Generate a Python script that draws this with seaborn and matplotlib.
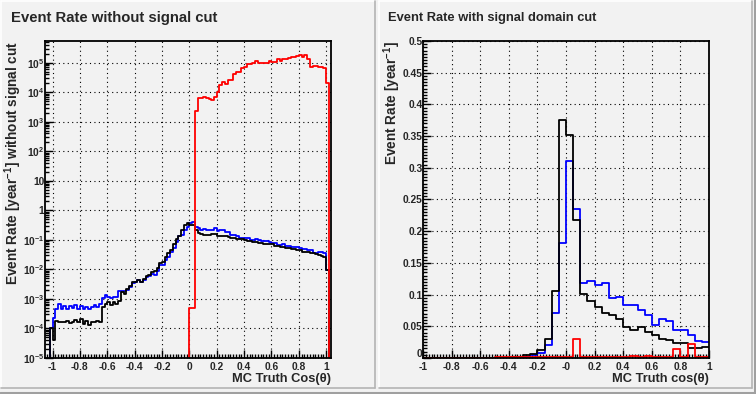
import numpy as np
import pandas as pd
import matplotlib
matplotlib.use("Agg")
import matplotlib.pyplot as plt
import seaborn as sns
from matplotlib.lines import Line2D
from matplotlib.transforms import ScaledTranslation
from matplotlib.ticker import FixedLocator, MultipleLocator, LogLocator, NullFormatter

# ---------- left pad: bins of 0.02 from -1.04 to 1.04 ----------
# bins -1.04 ... -0.02 (52 bins)
blue_neg = [0, 1e-4, 2.3e-4, 4.4e-4, 6.5e-4, 4.4e-4, 5.7e-4, 4.4e-4, 5.9e-4, 5.0e-4,
            6.2e-4, 4.5e-4, 5.9e-4, 4.7e-4, 5.4e-4, 4.7e-4, 5.4e-4, 6.2e-4, 5.4e-4, 6.6e-4,
            1.1e-3, 1.4e-3, 1.2e-3, 1.05e-3, 1.2e-3, 1.15e-3, 1.85e-3, 1.9e-3, 1.8e-3, 2.0e-3,
            2.6e-3, 3.4e-3, 3.8e-3, 4.3e-3, 3.6e-3, 4.3e-3, 5.6e-3, 6.2e-3, 7.0e-3, 6.6e-3,
            9e-3, 1.4e-2, 1.4e-2, 2.0e-2, 2.7e-2, 3.8e-2, 5.5e-2, 8.5e-2, 0.13, 0.15,
            0.21, 0.28]
black_neg = [0, 1e-4, 4e-5, 1.8e-4, 1.6e-4, 1.7e-4, 1.6e-4, 1.8e-4, 1.5e-4, 1.6e-4,
             1.9e-4, 1.7e-4, 2.1e-4, 1.4e-4, 1.8e-4, 1.3e-4, 1.7e-4, 1.6e-4, 1.8e-4, 1.7e-4,
             5.4e-4, 6.5e-4, 7.6e-4, 6.2e-4, 7.6e-4, 7.0e-4, 8.4e-4, 1.7e-3, 1.5e-3, 2.2e-3,
             2.8e-3, 3.6e-3, 3.8e-3, 4.3e-3, 3.8e-3, 4.7e-3, 6.0e-3, 6.4e-3, 7.9e-3, 8.8e-3,
             1.1e-2, 1.7e-2, 1.8e-2, 2.7e-2, 3.5e-2, 4.5e-2, 7.0e-2, 0.105, 0.137, 0.215,
             0.33, 0.36]
# bins 0.00 ... 1.02 (52 bins)
blue_pos = [0.38, 0.40, 0.28, 0.25, 0.22, 0.235, 0.22, 0.22, 0.22, 0.25,
            0.20, 0.22, 0.21, 0.19, 0.19, 0.15, 0.15, 0.14, 0.12, 0.12,
            0.114, 0.114, 0.10, 0.10, 0.105, 0.10, 0.092, 0.088, 0.088, 0.083,
            0.077, 0.077, 0.068, 0.068, 0.071, 0.064, 0.064, 0.059, 0.059, 0.059,
            0.052, 0.05, 0.05, 0.046, 0.046, 0.035, 0.035, 0.038, 0.038, 0.035,
            0.0096, 0]
black_pos = [0.33, 0.31, 0.22, 0.17, 0.156, 0.15, 0.15, 0.15, 0.16, 0.16,
             0.14, 0.14, 0.13, 0.13, 0.125, 0.12, 0.12, 0.108, 0.108, 0.105,
             0.10, 0.092, 0.09, 0.083, 0.083, 0.077, 0.077, 0.073, 0.072, 0.071,
             0.07, 0.064, 0.064, 0.059, 0.059, 0.052, 0.052, 0.048, 0.048, 0.046,
             0.046, 0.040, 0.040, 0.038, 0.037, 0.035, 0.033, 0.031, 0.029, 0.026,
             0.0096, 0]
red_pos = [5e-4, 5e-4, 2300, 6200, 6500, 7000, 6500, 6000, 5400, 7000,
           1.0e4, 1.75e4, 2.15e4, 1.9e4, 2.6e4, 2.6e4, 4.1e4, 5.0e4, 5.0e4, 6.4e4,
           7.3e4, 8.8e4, 8.8e4, 1.0e5, 1.17e5, 1.0e5, 9.5e4, 1.0e5, 1.0e5, 1.17e5,
           1.08e5, 1.08e5, 1.3e5, 1.17e5, 1.3e5, 1.3e5, 1.4e5, 1.5e5, 1.5e5, 1.7e5,
           1.8e5, 1.5e5, 1.8e5, 1.3e5, 7.3e4, 7.7e4, 7.7e4, 7.3e4, 7.3e4, 6.4e4,
           2.0e4, 0]

# ---------- right pad: bins of 0.05 from -1 to 1 (40 bins) ----------
blue_cut = [0, 0, 0, 0, 0, 0, 0, 0, 0, 0,
            0, 0, 0, 0.001, 0.002, 0.004, 0.0085, 0.02, 0.0705, 0.182,
            0.31, 0.2345, 0.118, 0.121, 0.115, 0.118, 0.094, 0.0957, 0.0836, 0.0836,
            0.0757, 0.0678, 0.052, 0.061, 0.0589, 0.044, 0.0437, 0.0363, 0.0273, 0.0258]
black_cut = [0, 0, 0, 0, 0, 0, 0, 0, 0, 0,
             0, 0, 0.001, 0.002, 0.004, 0.0063, 0.0126, 0.0295, 0.105, 0.375,
             0.351, 0.218, 0.101, 0.090, 0.081, 0.0705, 0.0678, 0.061, 0.049, 0.044,
             0.049, 0.0415, 0.0363, 0.0295, 0.029, 0.0242, 0.0237, 0.0153, 0.016, 0.0179]
red_cut = [0, 0, 0, 0, 0, 0, 0, 0, 0, 0,
           0.0008, 0.0008, 0.0008, 0.0008, 0.0008, 0.0008, 0.0008, 0.0008, 0.0008, 0.0008,
           0.0008, 0.0295, 0.0008, 0.0008, 0.0008, 0.0008, 0.0008, 0.0008, 0.0008, 0.003,
           0.0008, 0.003, 0.0008, 0.0008, 0.002, 0.0137, 0.0008, 0.022, 0.0008, 0.0008]

xticks = [-1, -0.8, -0.6, -0.4, -0.2, 0, 0.2, 0.4, 0.6, 0.8, 1]
xlabels_L = ["-1", "-0.8", "-0.6", "-0.4", "-0.2", "0", "0.2", "0.4", "0.6", "0.8", "1"]
xlabels_R = ["-1", "-0.8", "-0.6", "-0.4", "-0.2", "-0", "0.2", "0.4", "0.6", "0.8", "1"]
ylog_ticks = [1e-5, 1e-4, 1e-3, 1e-2, 1e-1, 1, 10, 1e2, 1e3, 1e4, 1e5]
ylog_labels = ["$10^{-5}$", "$10^{-4}$", "$10^{-3}$", "$10^{-2}$", "$10^{-1}$", "1", "10",
               "$10^{2}$", "$10^{3}$", "$10^{4}$", "$10^{5}$"]
ylin_ticks = [0, 0.05, 0.1, 0.15, 0.2, 0.25, 0.3, 0.35, 0.4, 0.45, 0.5]
ylin_labels = ["0", "0.05", "0.1", "0.15", "0.2", "0.25", "0.3", "0.35", "0.4", "0.45", "0.5"]

sns.set_theme(style="ticks")
plt.rcParams["font.family"] = ["Liberation Sans", "DejaVu Sans"]
plt.rcParams["font.weight"] = "bold"
plt.rcParams["mathtext.fontset"] = "custom"
plt.rcParams["mathtext.rm"] = "Liberation Sans:bold"
plt.rcParams["mathtext.bf"] = "Liberation Sans:bold"
plt.rcParams["mathtext.default"] = "bf"

W, H = 756, 394
pad_col = "#f2f2f2"
fig = plt.figure(figsize=(W / 100, H / 100), dpi=100)
fig.patch.set_facecolor(pad_col)


def hline(x0, x1, y, c, lw):
    fig.add_artist(Line2D([x0 / W, x1 / W], [1 - y / H, 1 - y / H], color=c, lw=lw,
                          transform=fig.transFigure))


def vline(x, y0, y1, c, lw):
    fig.add_artist(Line2D([x / W, x / W], [1 - y0 / H, 1 - y1 / H], color=c, lw=lw,
                          transform=fig.transFigure))


# pad bevels (ROOT style)
for x0, x1 in [(1, 375), (379, 752)]:
    hline(x0, x1, 1, "white", 1.2)
    vline(x0, 1, 388, "white", 1.2)
    hline(x0, x1, 388, "#b4b4b4", 1.2)
    vline(x1, 1, 388, "#b4b4b4", 1.2)
hline(0, W, 392.5, "#a0a0a0", 2.2)
vline(754.5, 0, H, "#a0a0a0", 2.2)

axL = fig.add_axes([45 / W, 36 / H, 286 / W, 317 / H])
axR = fig.add_axes([423 / W, 36 / H, 286 / W, 317 / H])

edgesL = -1.04 + 0.02 * np.arange(105)
centL = 0.5 * (edgesL[:-1] + edgesL[1:])
edgesR = -1 + 0.05 * np.arange(41)
centR = 0.5 * (edgesR[:-1] + edgesR[1:])

dfL = pd.DataFrame({
    "cos": np.tile(centL, 3),
    "rate": np.r_[blue_neg, blue_pos, black_neg, black_pos,
                  np.zeros(len(black_neg)), red_pos],
    "curve": np.repeat(["blue", "black", "red"], len(centL)),
})
dfR = pd.DataFrame({
    "cos": np.tile(centR, 3),
    "rate": np.r_[blue_cut, black_cut, red_cut],
    "curve": np.repeat(["blue", "black", "red"], len(centR)),
})
colors = {"blue": "#0000ff", "black": "black", "red": "#ff0000"}

lw = 1.3
for ax, df, edges in [(axL, dfL, edgesL), (axR, dfR, edgesR)]:
    for name in ["blue", "black", "red"]:
        sns.histplot(data=df[df["curve"] == name], x="cos", weights="rate",
                     bins=edges.tolist(), element="step", fill=False,
                     color=colors[name], linewidth=lw, ax=ax)

axL.set_yscale("log")
axL.set_xlim(-1.055, 1.035)
axL.set_ylim(1e-5, 5.4e5)
axL.yaxis.set_major_locator(FixedLocator(ylog_ticks))
axL.set_yticklabels(ylog_labels)
axL.yaxis.set_minor_locator(LogLocator(base=10, subs=np.arange(2, 10), numticks=100))
axL.yaxis.set_minor_formatter(NullFormatter())
axL.set_xticks(xticks)
axL.set_xticklabels(xlabels_L)

axR.set_xlim(-1, 1)
axR.set_ylim(0, 0.5)
axR.set_yticks(ylin_ticks)
axR.set_yticklabels(ylin_labels)
axR.yaxis.set_minor_locator(MultipleLocator(0.005))
axR.set_xticks(xticks)
axR.set_xticklabels(xlabels_R)

for ax in (axL, axR):
    ax.set_facecolor(pad_col)
    ax.xaxis.set_minor_locator(MultipleLocator(0.02))
    ax.set_xlabel("")
    ax.set_ylabel("")
    ax.grid(which="major", color="black", linestyle=(0, (1, 3)), linewidth=0.8)
    ax.tick_params(which="both", direction="in", top=False, right=False,
                   color="black", width=1.0)
    ax.tick_params(which="major", length=5.8, labelsize=7.4)
    ax.tick_params(which="minor", length=3.0)
    ax.tick_params(axis="x", which="major", pad=2.6)
    ax.tick_params(axis="y", which="major", pad=0.4)
    for sp in ax.spines.values():
        sp.set_visible(True)
        sp.set_color("black")
        sp.set_linewidth(1.3)
        sp.set_zorder(3)

# the "0" of the linear axis sits a little above its tick, as in the reference
zero_lab = axR.get_yticklabels()[0]
zero_lab.set_transform(zero_lab.get_transform()
                       + ScaledTranslation(0, 3.5 / 72, fig.dpi_scale_trans))

# titles and axis titles
fig.text(11 / W, 1 - 21.7 / H, "Event Rate without signal cut", fontsize=10.7,
         fontweight="bold", ha="left", va="baseline")
fig.text(388 / W, 1 - 20.7 / H, "Event Rate with signal domain cut", fontsize=9.3,
         fontweight="bold", ha="left", va="baseline")
fig.text(2.5 / W, 1 - 41 / H, "Event Rate [year$^{-1}$] without signal cut", fontsize=9.8,
         fontweight="bold", rotation=90, ha="left", va="top")
fig.text(381 / W, 1 - 41 / H, "Event Rate [year$^{-1}$]", fontsize=9.8,
         fontweight="bold", rotation=90, ha="left", va="top")
fig.text(331 / W, 1 - 382 / H, "MC Truth Cos(θ)", fontsize=9.3, fontweight="bold",
         ha="right", va="baseline")
fig.text(709 / W, 1 - 382 / H, "MC Truth cos(θ)", fontsize=9.3, fontweight="bold",
         ha="right", va="baseline")

fig.savefig("out.png", dpi=100, facecolor=fig.get_facecolor())
